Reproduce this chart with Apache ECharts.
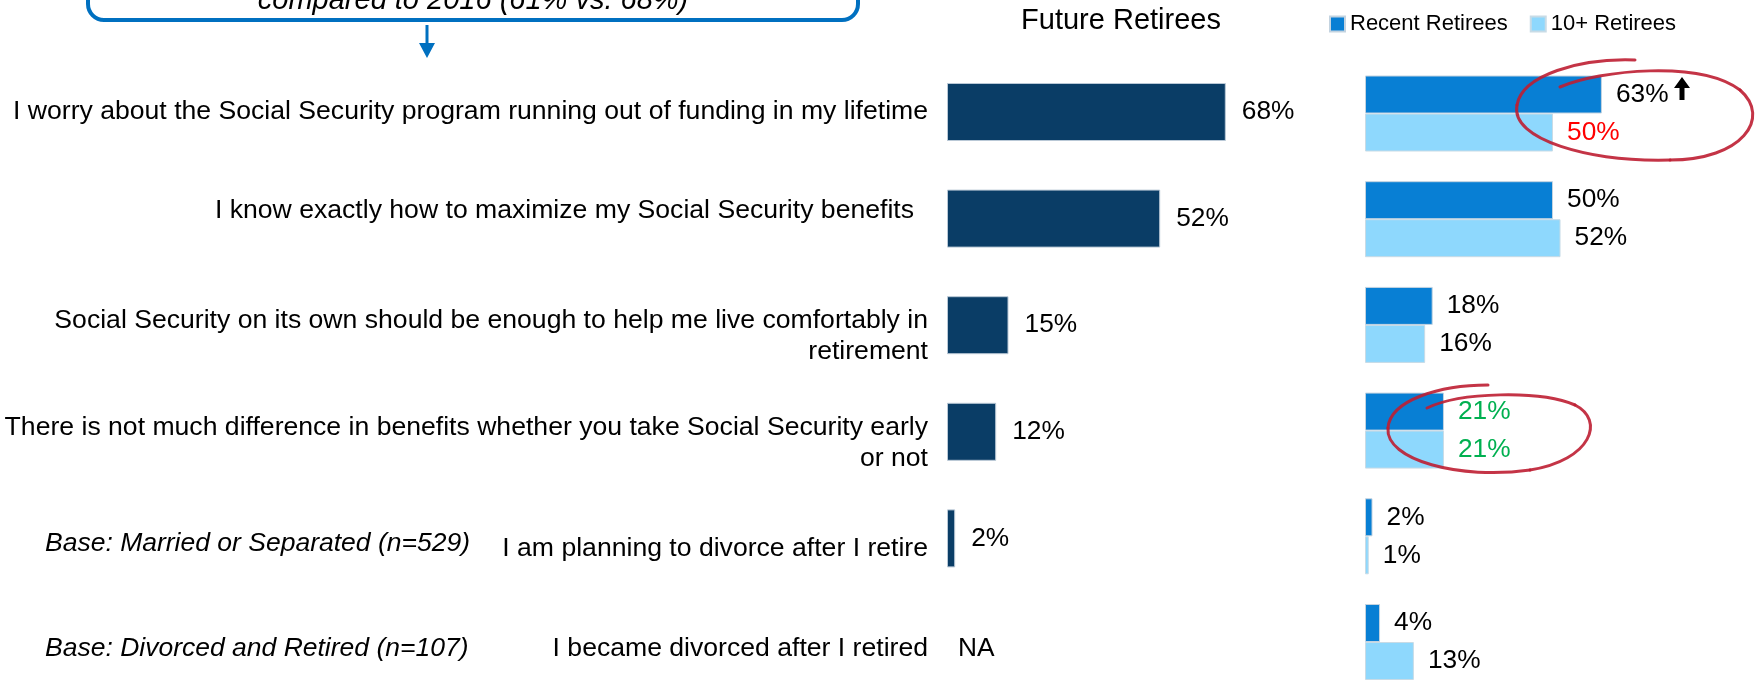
<!DOCTYPE html>
<html>
<head>
<meta charset="utf-8">
<script src="https://cdn.jsdelivr.net/npm/echarts@6/dist/echarts.min.js"></script>
<style>
  html, body { margin: 0; padding: 0; background: #fff; }
  #chart { width: 1761px; height: 681px; }
</style>
</head>
<body>
<div id="chart"></div>
<script>
// Survey statements (one row each) and the base notes shown beside some rows
const categories = [
  'I worry about the Social Security program running out of funding in my lifetime',
  'I know exactly how to maximize my Social Security benefits',
  'Social Security on its own should be enough to help me live comfortably in\nretirement',
  'There is not much difference in benefits whether you take Social Security early\nor not',
  'I am planning to divorce after I retire',
  'I became divorced after I retired'
];
const baseNotes = ['', '', '', '', 'Base: Married or Separated (n=529)', 'Base: Divorced and Retired (n=107)'];

// Percent agreeing, by group (null = not asked)
const futureRetirees = [68, 52, 15, 12, 2, null];
const recentRetirees = [63, 50, 18, 21, 2, 4];
const tenPlusRetirees = [50, 52, 16, 21, 1, 13];

// Highlight colours for individual value labels
const recentLabelColors = ['#000', '#000', '#000', '#00b050', '#000', '#000'];
const tenPlusLabelColors = ['#ff0000', '#000', '#000', '#00b050', '#000', '#000'];

// Vertical nudge of each row's statement text (px, + = down) and right-hand inset
const rowTextShift = [0, -8, 11, 11, 10, 4];
const rowTextInset = [0, 14, 0, 0, 0, 0];
const rowNoteShift = [0, 0, 0, 0, 5, 4];

const seriesNames = ['Future Retirees', 'Recent Retirees', '10+ Retirees'];
const FONT = '"Liberation Sans", Arial, sans-serif';

const chart = echarts.init(document.getElementById('chart'), null, { renderer: 'canvas' });

// Spacer tokens (rich text) nudge a label up/down around its row centre or inset it
const spacerRich = {};
function nudge(text, shift, inset) {
  if (!text) return text;
  let out = text;
  if (inset) {
    const gk = 'g' + inset;
    spacerRich[gk] = { width: inset };
    const lines = out.split('\n');
    lines[0] = lines[0] + '{' + gk + '|\u00a0}';
    out = lines.join('\n');
  }
  if (shift) {
    const h = Math.abs(shift) * 2;
    const key = 'sp' + h;
    spacerRich[key] = { fontSize: 1, lineHeight: h };
    out = shift > 0 ? '{' + key + '|\u00a0}\n' + out : out + '\n{' + key + '|\u00a0}';
  }
  return out;
}
function labelFormatter(list, shifts, insets) {
  return function (value, index) {
    return nudge(list[index], shifts[index], insets ? insets[index] : 0);
  };
}

const futureData = futureRetirees.map(function (v) {
  if (v === null) {
    return {
      value: 0,
      itemStyle: { borderWidth: 0 },
      label: { formatter: 'NA', distance: 11, offset: [0, 4] }
    };
  }
  return v;
});
const recentData = recentRetirees.map(function (v, i) {
  return { value: v, label: { color: recentLabelColors[i] } };
});
const tenPlusData = tenPlusRetirees.map(function (v, i) {
  return { value: v, label: { color: tenPlusLabelColors[i] } };
});

// Hand-drawn style loops around the highlighted figures, as cubic segments
// [x1, y1, cpx1, cpy1, cpx2, cpy2, x2, y2]
const loop1 = [
  [1560, 87, 1600, 70, 1700, 60, 1740, 90],
  [1740, 90, 1772, 118, 1742, 160, 1670, 160],
  [1670, 160, 1590, 162, 1510, 140, 1517, 105],
  [1517, 105, 1522, 75, 1580, 58, 1635, 60]
];
const loop2 = [
  [1427, 408, 1460, 392, 1540, 390, 1575, 405],
  [1575, 405, 1605, 420, 1592, 460, 1530, 470],
  [1530, 470, 1460, 480, 1385, 460, 1388, 428],
  [1388, 428, 1390, 400, 1440, 385, 1488, 385]
];
function loopGraphics(segs) {
  return segs.map(function (s) {
    return {
      type: 'bezierCurve',
      shape: { x1: s[0], y1: s[1], cpx1: s[2], cpy1: s[3], cpx2: s[4], cpy2: s[5], x2: s[6], y2: s[7] },
      style: { fill: null, stroke: '#be1e32', lineWidth: 3, opacity: 0.9, lineCap: 'round' },
      z: 20
    };
  });
}

const statementFormatter = labelFormatter(categories, rowTextShift, rowTextInset);
const noteFormatter = labelFormatter(baseNotes, rowNoteShift, null);
// run once so the spacer styles exist before the option is built
categories.forEach(function (c, i) { statementFormatter(c, i); noteFormatter(baseNotes[i], i); });

const option = {
  backgroundColor: '#ffffff',
  animation: false,
  textStyle: { fontFamily: FONT },
  legend: {
    data: ['Recent Retirees', '10+ Retirees'],
    left: 1324,
    top: 8,
    itemWidth: 15,
    itemHeight: 15,
    itemGap: 22,
    icon: 'rect',
    textStyle: { fontSize: 22, color: '#000', fontFamily: FONT }
  },
  // category axes without boundary gap: first/last row centres sit on the grid edges
  grid: [
    { left: 947, top: 112, width: 410, height: 533, containLabel: false },
    { left: 1365, top: 113.5, width: 376, height: 528.5, containLabel: false }
  ],
  xAxis: [
    { type: 'value', gridIndex: 0, min: 0, max: 100, show: false },
    { type: 'value', gridIndex: 1, min: 0, max: 100, show: false }
  ],
  yAxis: [
    {
      type: 'category', gridIndex: 0, inverse: true, data: categories, boundaryGap: false,
      axisLine: { show: false }, axisTick: { show: false }, splitLine: { show: false },
      axisLabel: {
        fontSize: 26.6, color: '#000', fontFamily: FONT, margin: 19,
        lineHeight: 31, align: 'right', interval: 0,
        formatter: statementFormatter, rich: spacerRich
      }
    },
    {
      type: 'category', gridIndex: 0, inverse: true, data: baseNotes, position: 'left', boundaryGap: false,
      axisLine: { show: false }, axisTick: { show: false }, splitLine: { show: false },
      axisLabel: {
        fontSize: 26.5, color: '#000', fontFamily: FONT, fontStyle: 'italic',
        margin: 902, align: 'left', interval: 0,
        formatter: noteFormatter, rich: spacerRich
      }
    },
    {
      type: 'category', gridIndex: 1, inverse: true, data: categories, boundaryGap: false, show: false
    }
  ],
  series: [
    {
      name: seriesNames[0], type: 'bar', xAxisIndex: 0, yAxisIndex: 0, clip: false,
      data: futureData, barWidth: 58,
      itemStyle: { color: '#0a3d66', borderColor: '#b9c8d6', borderWidth: 1 },
      label: {
        show: true, position: 'right', distance: 16, formatter: '{c}%',
        fontSize: 26.3, color: '#000', fontFamily: FONT
      }
    },
    {
      name: seriesNames[1], type: 'bar', xAxisIndex: 1, yAxisIndex: 2, clip: false,
      data: recentData, barWidth: 38, barGap: '0%',
      itemStyle: { color: '#087fd4', borderColor: '#c3d3e0', borderWidth: 1 },
      label: {
        show: true, position: 'right', distance: 14, formatter: '{c}%',
        fontSize: 26.3, fontFamily: FONT
      }
    },
    {
      name: seriesNames[2], type: 'bar', xAxisIndex: 1, yAxisIndex: 2, clip: false,
      data: tenPlusData, barWidth: 38, barGap: '0%',
      itemStyle: { color: '#8ed8fd', borderColor: '#c8dbe6', borderWidth: 1 },
      label: {
        show: true, position: 'right', distance: 14, formatter: '{c}%',
        fontSize: 26.3, fontFamily: FONT
      }
    }
  ],
  graphic: [
    // callout box running off the top edge, with its pointer arrow
    {
      type: 'rect', shape: { x: 88, y: -40, width: 770, height: 60, r: 16 },
      style: { fill: null, stroke: '#0070c0', lineWidth: 4 }, z: 10
    },
    {
      type: 'text', x: 473, y: 15.5,
      style: {
        text: 'compared to 2016 (61% vs. 68%)', fontSize: 29, fontStyle: 'italic',
        fontFamily: FONT, fill: '#000', align: 'center', verticalAlign: 'bottom'
      }, z: 10
    },
    {
      type: 'line', shape: { x1: 427, y1: 25, x2: 427, y2: 45 },
      style: { stroke: '#0070c0', lineWidth: 3 }, z: 10
    },
    {
      type: 'polygon', shape: { points: [[419, 43], [435, 43], [427, 58]] },
      style: { fill: '#0070c0' }, z: 10
    },
    // panel heading for the left bars
    {
      type: 'text', x: 1121, y: 21,
      style: {
        text: 'Future Retirees', fontSize: 29, fontFamily: FONT, fill: '#000',
        align: 'center', verticalAlign: 'middle'
      }, z: 10
    },
    // significance arrow beside the 63% figure
    {
      type: 'polygon',
      shape: { points: [[1682, 77], [1690, 88], [1684.5, 88], [1684.5, 100], [1679.5, 100], [1679.5, 88], [1674, 88]] },
      style: { fill: '#000' }, z: 10
    }
  ].concat(loopGraphics(loop1)).concat(loopGraphics(loop2))
};

chart.setOption(option);
</script>
</body>
</html>
